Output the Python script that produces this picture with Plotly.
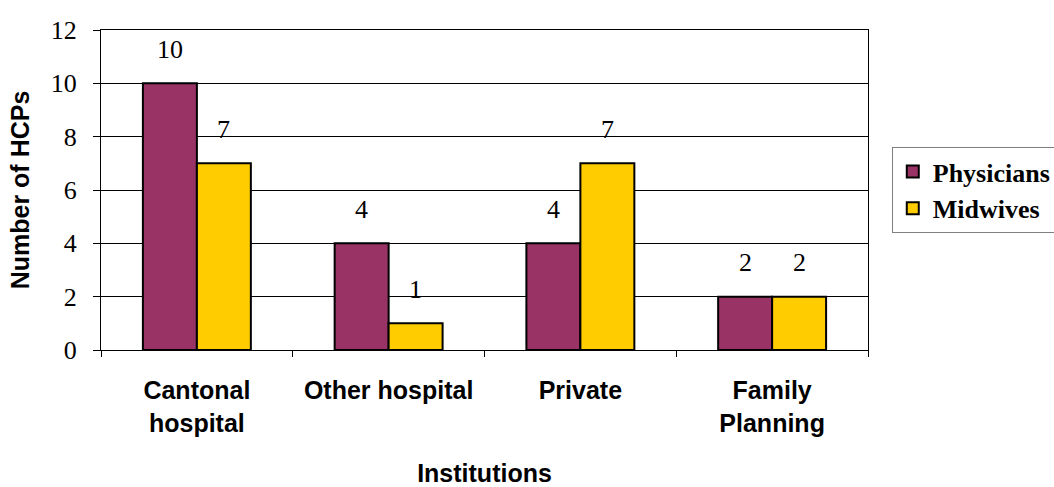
import plotly.graph_objects as go

# Institutions where the health-care professionals work
categories = ["Cantonal<br>hospital", "Other hospital", "Private", "Family<br>Planning"]
physicians = [10, 4, 4, 2]
midwives = [7, 1, 7, 2]
y_ticks = [0, 2, 4, 6, 8, 10, 12]

series = [
    ("Physicians", physicians, "#993366", -27),
    ("Midwives", midwives, "#FFCC00", 27),
]

fig = go.Figure()
for name, vals, color, _ in series:
    fig.add_trace(go.Bar(
        name=name,
        x=categories,
        y=vals,
        marker=dict(color=color, line=dict(color="black", width=2)),
    ))

# value labels above each bar
annotations = []
for name, vals, color, dx in series:
    for cat, v in zip(categories, vals):
        annotations.append(dict(
            x=cat, y=v, xref="x", yref="y", text=str(v), showarrow=False,
            xshift=dx, yshift=34, yanchor="middle",
            font=dict(family="Liberation Serif", size=26, color="black"),
        ))

fig.update_layout(
    width=1054, height=487,
    margin=dict(l=101, r=186, t=30, b=137, autoexpand=False),
    paper_bgcolor="white", plot_bgcolor="white",
    barmode="group", bargap=0.437, bargroupgap=0,
    annotations=annotations,
    legend=dict(
        x=1.031, y=0.5, xanchor="left", yanchor="middle",
        bordercolor="#808080", borderwidth=1,
        font=dict(family="Liberation Serif", size=26, color="black", weight="bold"),
        tracegroupgap=0,
    ),
    xaxis=dict(
        showline=True, linecolor="black", linewidth=1, mirror=True,
        ticks="outside", tickson="boundaries", ticklen=6, tickcolor="black",
        tickfont=dict(family="Liberation Sans", size=25, color="black", weight="bold"),
        ticklabelstandoff=18,
        title=dict(text="Institutions", standoff=46,
                   font=dict(family="Liberation Sans", size=25, color="black", weight="bold")),
    ),
    yaxis=dict(
        range=[0, 12], tickvals=y_ticks,
        showline=True, linecolor="black", linewidth=1, mirror=True,
        showgrid=True, gridcolor="black", gridwidth=1,
        ticks="outside", ticklen=7, tickcolor="black",
        tickfont=dict(family="Liberation Serif", size=26, color="black"),
        ticklabelstandoff=11,
        title=dict(text="Number of HCPs", standoff=14,
                   font=dict(family="Liberation Sans", size=25, color="black", weight="bold")),
    ),
)

fig.write_html("out.html")
